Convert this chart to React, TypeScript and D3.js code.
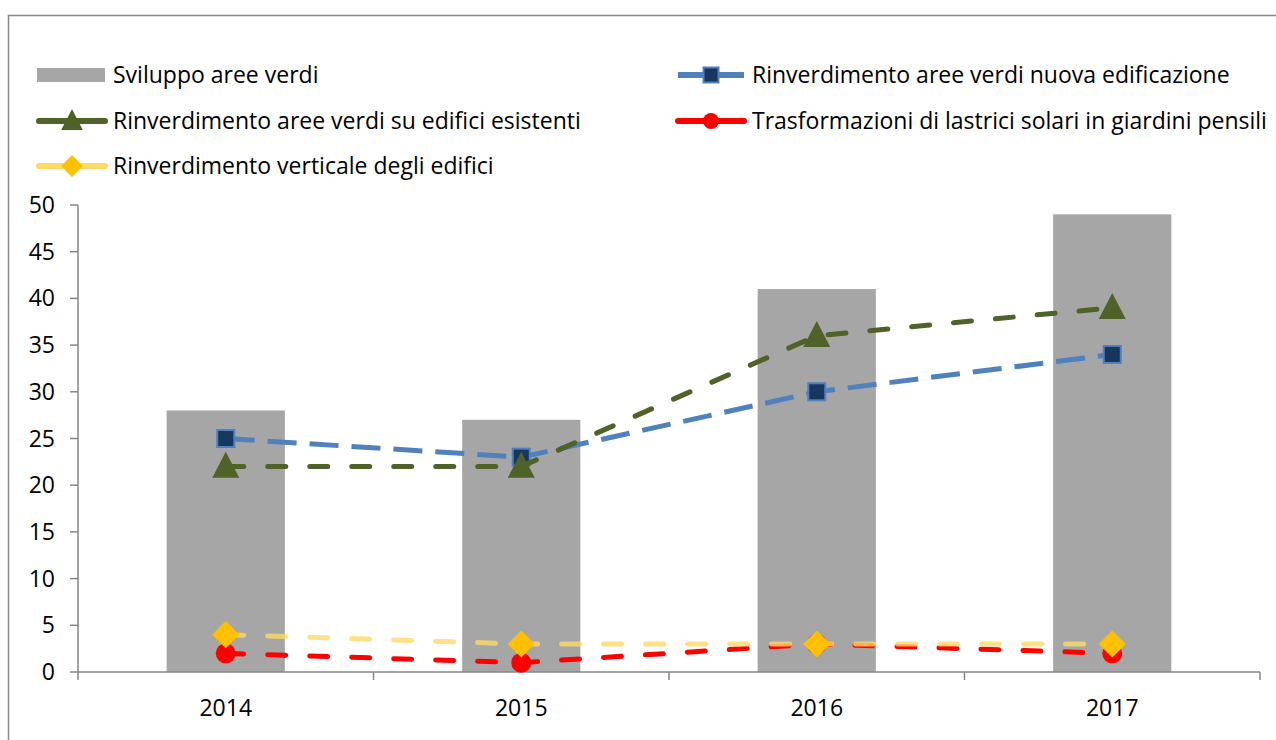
import React from 'react'
import * as d3 from 'd3'

const years = ['2014', '2015', '2016', '2017']
const sviluppo = [28, 27, 41, 49]
const nuovaEdificazione = [25, 23, 30, 34]
const edificiEsistenti = [22, 22, 36, 39]
const lastrici = [2, 1, 3, 2]
const verticale = [4, 3, 3, 3]
const yTicks = [0, 5, 10, 15, 20, 25, 30, 35, 40, 45, 50]

const FONT = '"Open Sans", "Noto Sans", sans-serif'
const FS = 23

const lines = [
  { name: 'Rinverdimento aree verdi nuova edificazione', values: nuovaEdificazione, color: '#4F81BD', marker: 'square', dash: '29,13', cap: 'butt', opacity: 1 },
  { name: 'Rinverdimento aree verdi su edifici esistenti', values: edificiEsistenti, color: '#4F6228', marker: 'triangle', dash: '18,24', cap: 'round', opacity: 1 },
  { name: 'Trasformazioni di lastrici solari in giardini pensili', values: lastrici, color: '#FF0000', marker: 'circle', dash: '18,24', cap: 'round', opacity: 1 },
  { name: 'Rinverdimento verticale degli edifici', values: verticale, color: '#FFD966', marker: 'diamond', dash: '18,24', cap: 'round', opacity: 0.8 },
]

function Marker({ type, x, y, s }) {
  if (type === 'square') {
    const h = s / 2
    return <rect x={x - h} y={y - h} width={s} height={s} fill="#17375E" stroke="#4F81BD" strokeWidth={2} />
  }
  if (type === 'triangle') {
    const w = s * 1.35
    return <path d={`M${x},${y - w * 0.55}L${x + w / 2},${y + w * 0.42}L${x - w / 2},${y + w * 0.42}Z`} fill="#4F6228" />
  }
  if (type === 'circle') {
    return <circle cx={x} cy={y} r={s / 2} fill="#FF0000" />
  }
  const r = s * 0.68
  return <path d={`M${x},${y - r}L${x + r},${y}L${x},${y + r}L${x - r},${y}Z`} fill="#FFC000" />
}

export default function App() {
  const width = 1276
  const height = 740
  const x = d3.scaleBand().domain(years).range([78, 1260])
  const y = d3.scaleLinear().domain([0, 50]).range([672, 205])
  const barW = x.bandwidth() / 2.5
  const cx = (d) => x(d) + x.bandwidth() / 2
  const line = d3.line().x((d, i) => cx(years[i])).y((d) => y(d))

  // legend: bar first, then the lines in reading order
  const legendLines = [
    { item: lines[0], x: 676, y: 75 },
    { item: lines[1], x: 37, y: 121 },
    { item: lines[2], x: 676, y: 121 },
    { item: lines[3], x: 37, y: 166 },
  ]

  return (
    <svg width={width} height={height} style={{ position: 'absolute', left: 0, top: 0, background: '#fff' }} fontFamily={FONT}>
      <rect x={8.5} y={15.5} width={1400} height={900} fill="#fff" stroke="#888" strokeWidth={1.5} />

      {/* legend */}
      <rect x={37} y={68} width={68} height={14} fill="#A6A6A6" />
      <text x={113} y={75} dy="0.35em" fontSize={FS} fill="#000">Sviluppo aree verdi</text>
      {legendLines.map((l, i) => (
        <g key={i}>
          <line x1={l.x + 2} x2={l.x + 68} y1={l.y} y2={l.y} stroke={l.item.color} strokeWidth={6} strokeLinecap={l.item.cap} />
          <Marker type={l.item.marker} x={l.x + 35} y={l.y} s={l.item.marker === 'square' ? 15 : 16} />
          <text x={l.x + 76} y={l.y} dy="0.35em" fontSize={FS} fill="#000">{l.item.name}</text>
        </g>
      ))}

      {/* bars */}
      {sviluppo.map((v, i) => (
        <rect key={i} x={cx(years[i]) - barW / 2} y={y(v)} width={barW} height={y(0) - y(v)} fill="#A6A6A6" />
      ))}

      {/* y axis */}
      <line x1={78} x2={78} y1={205} y2={672} stroke="#868686" strokeWidth={1.5} />
      {yTicks.map((t) => (
        <g key={t}>
          <line x1={70} x2={78} y1={y(t)} y2={y(t)} stroke="#868686" strokeWidth={1.5} />
          <text x={55} y={y(t)} dy="0.35em" textAnchor="end" fontSize={FS} fill="#000">{t}</text>
        </g>
      ))}

      {/* x axis */}
      <line x1={78} x2={1260} y1={672} y2={672} stroke="#868686" strokeWidth={1.5} />
      {[...years.map((d) => x(d)), 1260].map((p, i) => (
        <line key={i} x1={p} x2={p} y1={672} y2={680} stroke="#868686" strokeWidth={1.5} />
      ))}
      {years.map((d) => (
        <text key={d} x={cx(d)} y={708} dy="0.35em" textAnchor="middle" fontSize={FS} fill="#000">{d}</text>
      ))}

      {/* lines */}
      {lines.map((s, k) => (
        <g key={k}>
          <path d={line(s.values)} fill="none" stroke={s.color} strokeWidth={5} strokeDasharray={s.dash} strokeLinecap={s.cap} opacity={s.opacity} />
          {s.values.map((v, i) => (
            <Marker key={i} type={s.marker} x={cx(years[i])} y={y(v)} s={s.marker === 'square' ? 17 : 20} />
          ))}
        </g>
      ))}
    </svg>
  )
}
